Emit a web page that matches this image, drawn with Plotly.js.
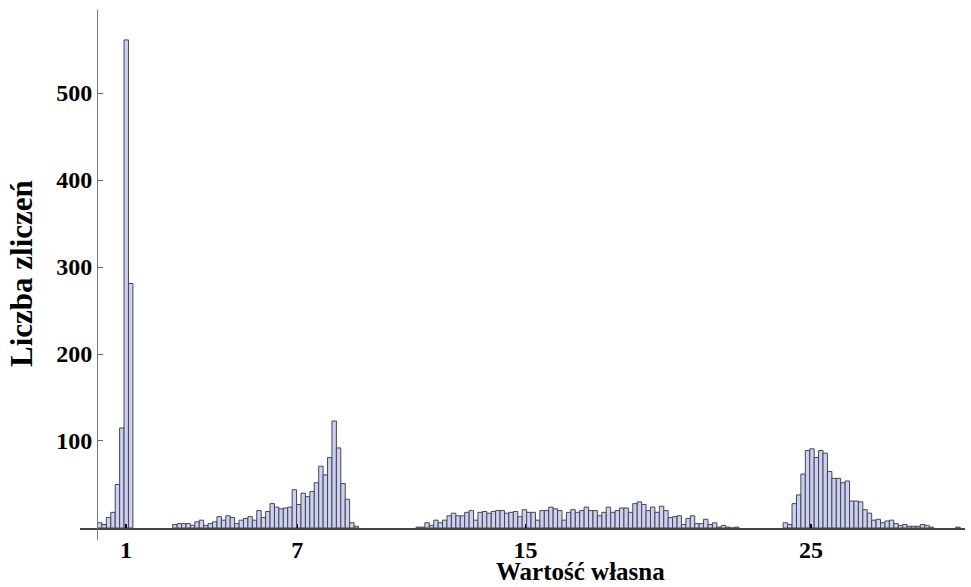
<!DOCTYPE html>
<html>
<head>
<meta charset="utf-8">
<script src="https://cdn.plot.ly/plotly-3.0.1.min.js"></script>
<style>html,body{margin:0;padding:0;background:#fff;}#chart{width:971px;height:587px;}</style>
</head>
<body>
<div id="chart"></div>
<script>
// Histogram bin width (eigenvalue units)
const binWidth = 0.155;

// Left edge of the first bin of each cluster
const group1Start = 0.0;
const group2Start = 2.635;
const group3Start = 11.16;
const group4Start = 24.025;
const group5Start = 30.07;

// Counts per bin
const group1Counts = [6, 4, 12, 18, 50, 115, 561, 281];
const group2Counts = [4, 5, 5, 5, 3, 7, 9, 3, 5, 7, 13, 9, 14, 12, 5, 9, 11, 13, 9, 20,
  12, 19, 28, 24, 22, 23, 24, 44, 27, 40, 36, 42, 52, 71, 61, 81, 123, 92, 51, 33, 6, 2];
const group3Counts = [1, 1, 6, 3, 9, 6, 9, 14, 17, 14, 14, 18, 20, 9, 18, 19, 17, 19, 20, 20,
  17, 18, 19, 13, 21, 18, 18, 9, 20, 20, 24, 22, 20, 9, 18, 21, 18, 20, 24, 20,
  20, 14, 18, 24, 18, 20, 23, 23, 18, 28, 30, 27, 20, 24, 18, 25, 20, 12, 13, 14,
  4, 11, 14, 5, 5, 10, 4, 6, 1, 3, 1, 0, 1];
const group4Counts = [6, 4, 28, 38, 62, 89, 91, 81, 89, 86, 65, 57, 57, 52, 54, 31, 31, 30, 21, 17,
  9, 10, 6, 8, 9, 5, 3, 4, 2, 2, 2, 4, 3, 1];
const group5Counts = [1];

// Axis ticks and labels
const xTickVals = [1, 7, 15, 25];
const xTickText = ['1', '7', '15', '25'];
const yTickVals = [100, 200, 300, 400, 500];
const yTickText = ['100', '200', '300', '400', '500'];
const xTitle = 'Wartość własna';
const yTitle = 'Liczba zliczeń';

const groups = [
  [group1Start, group1Counts],
  [group2Start, group2Counts],
  [group3Start, group3Counts],
  [group4Start, group4Counts],
  [group5Start, group5Counts]
];
const xs = [], ys = [];
groups.forEach(([start, counts]) => {
  counts.forEach((c, i) => { xs.push(start + (i + 0.5) * binWidth); ys.push(c); });
});

const serifFamily = '"Liberation Serif", "Times New Roman", serif';
const tickFont = {family: serifFamily, size: 24, color: '#000', weight: 'bold'};

const trace = {
  type: 'bar',
  x: xs,
  y: ys,
  width: binWidth,
  marker: {color: 'rgb(204,208,242)', line: {color: 'rgb(70,70,80)', width: 1}},
  hoverinfo: 'x+y'
};

const layout = {
  width: 971,
  height: 587,
  margin: {l: 80, r: 6, t: 10, b: 47},
  paper_bgcolor: '#fff',
  plot_bgcolor: '#fff',
  showlegend: false,
  bargap: 0,
  xaxis: {
    range: [-0.613, 30.395],
    tickvals: xTickVals,
    ticktext: xTickText,
    ticks: 'inside',
    ticklen: 4,
    tickcolor: '#000',
    tickwidth: 1.5,
    showline: true,
    linecolor: '#444',
    linewidth: 1.5,
    showgrid: false,
    zeroline: false,
    anchor: 'free',
    position: 0.0226,
    tickfont: tickFont,
    fixedrange: true
  },
  yaxis: {
    range: [-13.8, 595.4],
    tickvals: yTickVals,
    ticktext: yTickText,
    ticks: 'inside',
    ticklen: 5,
    tickcolor: '#666',
    showline: true,
    linecolor: '#777',
    linewidth: 1.5,
    showgrid: false,
    zeroline: false,
    anchor: 'free',
    position: 0.0192,
    tickfont: tickFont,
    fixedrange: true
  },
  annotations: [
    {text: xTitle, xref: 'paper', yref: 'paper', x: 0.565, y: -0.0885, xanchor: 'center', yanchor: 'bottom',
     showarrow: false, font: {family: serifFamily, size: 25, color: '#000', weight: 'bold'}},
    {text: yTitle, xref: 'paper', yref: 'paper', x: -0.066, y: 0.503, xanchor: 'center', yanchor: 'middle',
     textangle: -90, showarrow: false, font: {family: serifFamily, size: 31, color: '#000', weight: 'bold'}}
  ]
};

Plotly.newPlot('chart', [trace], layout, {displayModeBar: false, staticPlot: true});
</script>
</body>
</html>
